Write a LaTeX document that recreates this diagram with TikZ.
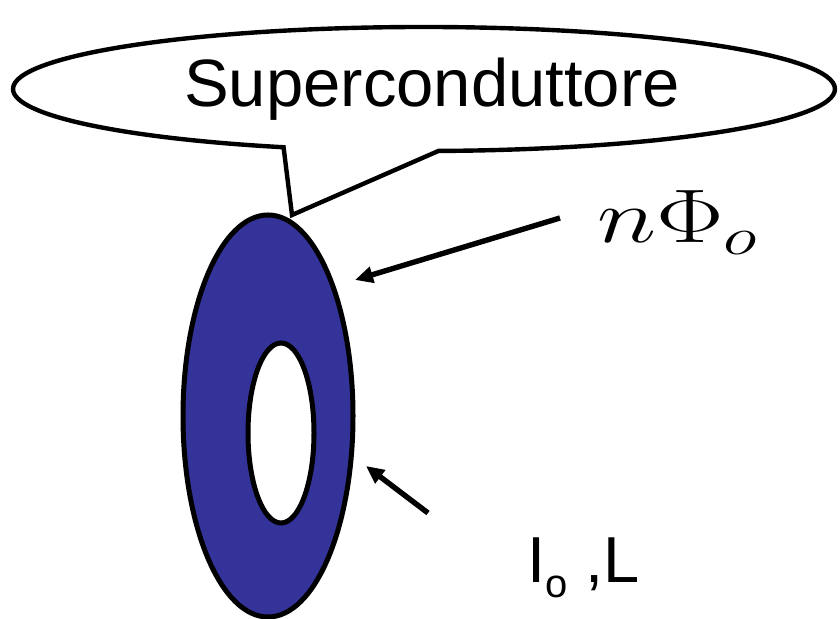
\RequirePackage{fix-cm}
\documentclass[tikz,border=0pt]{standalone}
\usepackage[no-math]{fontspec}
\usepackage{graphicx}
\newfontfamily\comicfont{Liberation Sans}
\usepackage{tikz}
\usetikzlibrary{arrows.meta,shapes.geometric,shapes.callouts}
\definecolor{ringblue}{HTML}{333399}
\tikzset{
  callbox/.style={ellipse callout,draw=black,line width=2.2pt,fill=white,inner sep=0pt,minimum width=411pt,minimum height=62pt,callout pointer arc=22,font=\comicfont\fontsize{33.5}{40}\selectfont},
  ringnode/.style={ellipse,draw=black,line width=2.5pt,fill=ringblue,inner sep=0pt},
  holenode/.style={ellipse,draw=black,line width=2.5pt,fill=white,inner sep=0pt},
  lbl/.style={inner sep=0pt,font=\comicfont\fontsize{32.5}{38}\selectfont},
  fl/.style={-{Triangle[length=9pt,width=8pt]},draw=black,line width=2.7pt},
}
\begin{document}
\begin{tikzpicture}[x=0.5pt,y=0.5pt]
\useasboundingbox (0,0) rectangle (840,619);
\node[ringnode,minimum width=85pt,minimum height=201pt] (ring) at (268,203) {};
\node[holenode,minimum width=33pt,minimum height=90pt] (hole) at (281,186) {};
\coordinate (bubtip) at (292,404);
\node[callbox,callout absolute pointer={(bubtip)}] (bubble) at (424,530) {\hspace*{8pt}Superconduttore};
\node[inner sep=0pt,anchor=base west,font=\fontsize{38}{45}\selectfont] (flux) at (597,376) {\scalebox{1.33}[1]{$n\Phi_o$}};
\node[lbl,anchor=base west] (curr) at (527,36) {I\raisebox{-0.22em}{\fontsize{20}{24}\selectfont o} ,L};
\coordinate (fluxtail) at (560,401);
\coordinate (fluxtip) at (355,339);
\coordinate (currtail) at (428,106);
\coordinate (currtip) at (366,153);
\draw[fl] (fluxtail) -- (fluxtip);
\draw[fl] (currtail) -- (currtip);
\end{tikzpicture}
\end{document}
